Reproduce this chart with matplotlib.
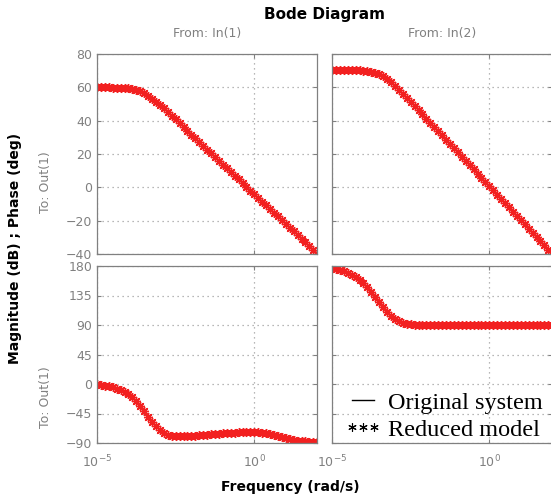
import matplotlib.pyplot as plt
from matplotlib.lines import Line2D
from matplotlib.ticker import NullLocator

# log10 of frequency (rad/s) where the curves were read
log_w = [-5.0, -4.875, -4.75, -4.625, -4.5, -4.375, -4.25, -4.125, -4.0, -3.875,
         -3.75, -3.625, -3.5, -3.375, -3.25, -3.125, -3.0, -2.875, -2.75, -2.625,
         -2.5, -2.375, -2.25, -2.125, -2.0, -1.875, -1.75, -1.625, -1.5, -1.375,
         -1.25, -1.125, -1.0, -0.875, -0.75, -0.625, -0.5, -0.375, -0.25, -0.125,
         0.0, 0.125, 0.25, 0.375, 0.5, 0.625, 0.75, 0.875, 1.0, 1.125,
         1.25, 1.375, 1.5, 1.625, 1.75, 1.875, 2.0]

# magnitude (dB), input 1 and input 2
mag_in1 = [60.0, 60.0, 60.0, 60.0, 59.9, 59.9, 59.8, 59.7, 59.5, 59.1,
           58.5, 57.6, 56.4, 55.0, 53.3, 51.5, 49.5, 47.4, 45.2, 43.0,
           40.8, 38.6, 36.3, 34.1, 31.7, 29.4, 27.0, 24.8, 22.6, 20.4,
           18.1, 15.9, 13.7, 11.5, 9.2, 7.0, 4.8, 2.6, 0.3, -1.9,
           -4.1, -6.3, -8.5, -10.8, -13.0, -15.2, -17.4, -19.7, -21.9, -24.1,
           -26.3, -28.6, -30.8, -33.0, -35.2, -37.5, -39.7]
mag_in2 = [70.4, 70.4, 70.4, 70.4, 70.4, 70.3, 70.3, 70.2, 70.1, 69.8,
           69.4, 68.8, 67.9, 66.6, 64.9, 63.0, 60.9, 58.6, 56.2, 53.8,
           51.3, 48.9, 46.4, 43.9, 41.3, 38.8, 36.2, 33.7, 31.2, 28.6,
           26.1, 23.6, 21.0, 18.5, 15.9, 13.4, 10.9, 8.3, 5.8, 3.2,
           0.7, -1.8, -4.4, -6.9, -9.4, -12.0, -14.5, -17.1, -19.6, -22.1,
           -24.7, -27.2, -29.7, -32.3, -34.8, -37.4, -39.9]

# phase (deg), input 1 and input 2
phase_in1 = [-0.5, -1.5, -2.5, -3.5, -5.0, -7.0, -9.0, -12.0, -16.0, -20.5,
             -26.5, -33.5, -41.5, -50.0, -57.5, -64.5, -70.5, -74.7, -77.3, -78.8,
             -79.3, -79.3, -79.3, -79.3, -78.8, -78.8, -78.3, -77.8, -77.3, -76.8,
             -76.3, -75.8, -75.3, -74.7, -74.2, -74.0, -73.7, -73.5, -73.2, -73.2,
             -73.2, -73.7, -74.2, -75.3, -76.8, -78.3, -79.8, -81.4, -82.9, -84.4,
             -85.5, -86.5, -87.2, -87.7, -88.2, -88.5, -89.0]
phase_in2 = [176.4, 175.4, 174.4, 172.4, 169.8, 166.8, 163.2, 159.2, 154.1, 147.5,
             140.3, 132.7, 125.1, 117.5, 109.8, 103.7, 99.1, 96.1, 93.6, 92.0,
             91.0, 90.5, 90.2, 90.1, 90.0, 90.0, 90.0, 90.0, 90.0, 90.0,
             90.0, 90.0, 90.0, 90.0, 90.0, 90.0, 90.0, 90.0, 90.0, 90.0,
             90.0, 90.0, 90.0, 90.0, 90.0, 90.0, 90.0, 90.0, 90.0, 90.0,
             90.0, 90.0, 90.0, 90.0, 90.0, 90.0, 90.0]

mag_ticks = [-40, -20, 0, 20, 40, 60, 80]
phase_ticks = [-90, -45, 0, 45, 90, 135, 180]
freq_ticks = [1e-5, 1e0]
freq_labels = ['$10^{-5}$', '$10^{0}$']

w = [10 ** e for e in log_w]
gray = '#808080'

fig = plt.figure(figsize=(5.51, 4.97), dpi=100)
W, H = 551.0, 497.0


def make_ax(x0, y_top, y_bot):
    ax = fig.add_axes([x0 / W, 1 - y_bot / H, 220.3 / W, (y_bot - y_top) / H])
    ax.set_xscale('log')
    ax.set_xlim(1e-5, 1e2)
    ax.set_xticks(freq_ticks)
    ax.xaxis.set_minor_locator(NullLocator())
    ax.grid(True, linestyle=(0, (1, 3)), color='#a0a0a0', linewidth=0.9)
    for s in ax.spines.values():
        s.set_color(gray)
        s.set_linewidth(0.9)
    ax.tick_params(direction='in', length=3, color=gray, labelcolor=gray,
                   labelsize=9, top=True, right=True)
    return ax


ax_m1 = make_ax(97, 54, 254)
ax_m2 = make_ax(332, 54, 254)
ax_p1 = make_ax(97, 266, 443)
ax_p2 = make_ax(332, 266, 443)

for ax, vals in [(ax_m1, mag_in1), (ax_m2, mag_in2), (ax_p1, phase_in1), (ax_p2, phase_in2)]:
    ax.plot(w, vals, color='k', linewidth=1.0)
    ax.plot(w, vals, linestyle='none', marker=(8, 2, 0), markersize=6.5,
            markeredgewidth=1.0, color='#f22020')

for ax in (ax_m1, ax_m2):
    ax.set_ylim(-40, 80)
    ax.set_yticks(mag_ticks)
    ax.set_xticklabels([])
for ax in (ax_p1, ax_p2):
    ax.set_ylim(-90, 180)
    ax.set_yticks(phase_ticks)
    ax.set_xticklabels(freq_labels)
    ax.tick_params(axis='x', pad=8)
for ax in (ax_m2, ax_p2):
    ax.set_yticklabels([])

ax_m1.set_title('From: In(1)', color=gray, fontsize=9, pad=12)
ax_m2.set_title('From: In(2)', color=gray, fontsize=9, pad=12)

fig.text(0.5 * (97 + 552) / W, 1 - 15 / H, 'Bode Diagram', ha='center', va='center',
         fontsize=11, fontweight='bold')
fig.text(45 / W, 1 - 182 / H, 'To: Out(1)', rotation=90, ha='center', va='center',
         color=gray, fontsize=9)
fig.text(45 / W, 1 - 397 / H, 'To: Out(1)', rotation=90, ha='center', va='center',
         color=gray, fontsize=9)
fig.text(15 / W, 1 - 248 / H, 'Magnitude (dB) ; Phase (deg)', rotation=90,
         ha='center', va='center', fontsize=10, fontweight='bold')
fig.text(290 / W, 1 - 487 / H, 'Frequency (rad/s)', ha='center', va='center',
         fontsize=10, fontweight='bold')

handles = [Line2D([], [], color='k', linewidth=1.0),
           Line2D([], [], color='k', linestyle='none', marker=(6, 2, 0),
                  markersize=6, markeredgewidth=0.8)]
ax_p2.legend(handles, ['Original system', 'Reduced model'], loc='lower left',
             bbox_to_anchor=(0.045, 0.0), frameon=False, numpoints=3,
             handlelength=1.5, handletextpad=0.3, borderaxespad=0.0,
             borderpad=0.1, labelspacing=0.2,
             prop={'family': 'Liberation Serif', 'size': 17.5})

fig.savefig('out.png', dpi=100)
